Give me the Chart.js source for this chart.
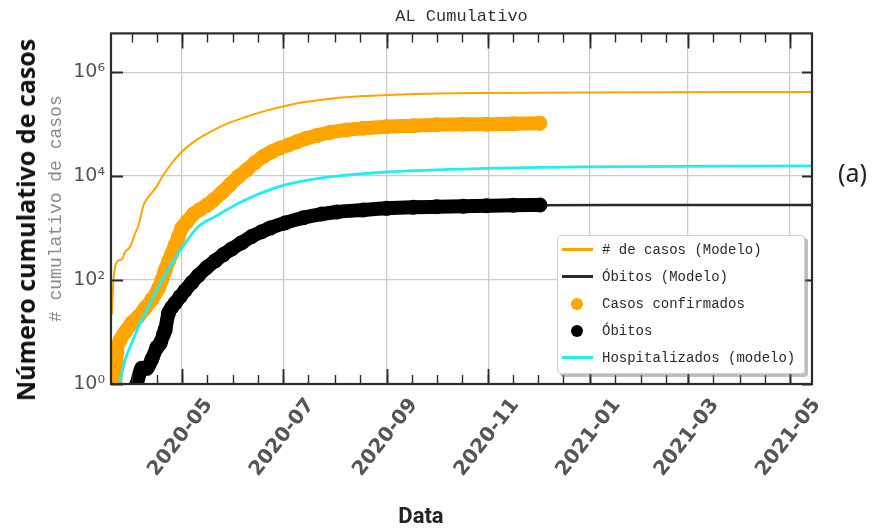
<!DOCTYPE html>
<html lang="pt">
<head>
<meta charset="UTF-8">
<title>AL Cumulativo</title>
<script src="https://cdn.jsdelivr.net/npm/chart.js"></script>
<style>
    body { margin: 0; background: #fff; }
    #wrap { position: relative; width: 879px; height: 528px; }
    #ylabel { position: absolute; left: 25px; top: 220px; transform: translate(-50%, -50%) rotate(-90deg);
        font: 700 25px 'Open Sans'; color: #111; white-space: nowrap; }
    #xlabel { position: absolute; left: 421px; top: 515px; transform: translate(-50%, -50%);
        font: 700 22px Roboto; color: #222; }
    #tag { position: absolute; left: 838px; top: 172px; transform: translateY(-50%);
        font: 400 25px 'Noto Sans'; color: #222; }
    #legenda { position: absolute; left: 557px; top: 235px; width: 248px; height: 139px; box-sizing: border-box;
        border: 1px solid #cfcfcf; border-radius: 4px; background: rgba(255, 255, 255, 0.92);
        box-shadow: 3px 3px 0 rgba(110, 110, 110, 0.45); padding: 0 0 0 4px;
        font: 14px 'Liberation Mono'; color: #2a2a2a; }
    #legenda .item { height: 27px; display: flex; align-items: center; white-space: nowrap; }
    #legenda .traco { width: 31px; height: 3px; margin-right: 9px; }
    #legenda .ponto { width: 12px; height: 12px; border-radius: 50%; margin: 0 19px 0 9px; }
</style>
</head>
<body>
<div id="wrap">
    <canvas id="grafico" width="879" height="528"></canvas>
    <div id="ylabel">Número cumulativo de casos</div>
    <div id="xlabel">Data</div>
    <div id="tag">(a)</div>
    <div id="legenda"></div>
</div>
<script>
    // ---- dados ----
    const rotulosX = ['2020-05', '2020-07', '2020-09', '2020-11', '2021-01', '2021-03', '2021-05'];
    const ticksY = [1, 1e2, 1e4, 1e6];
    const rotulosY = ['10⁰', '10²', '10⁴', '10⁶'];

    // # de casos (Modelo)
    const modeloCasosDatas = ['2020-03-20', '2020-03-21', '2020-03-23', '2020-03-26', '2020-03-28', '2020-03-31',
        '2020-04-03', '2020-04-05', '2020-04-08', '2020-04-11', '2020-04-15', '2020-04-20', '2020-04-25',
        '2020-05-01', '2020-05-07', '2020-05-13', '2020-05-21', '2020-05-29', '2020-06-06', '2020-06-14',
        '2020-06-23', '2020-07-02', '2020-07-13', '2020-07-29', '2020-08-18', '2020-09-01', '2020-10-01',
        '2020-10-31', '2020-12-26', '2021-05-14'];
    const modeloCasos = [22, 100, 224, 251, 347, 437, 794, 1120, 2750, 3980, 5750, 10500, 17800,
        29500, 42700, 57500, 79400, 105000, 129000, 158000, 190000, 224000, 263000, 309000, 347000,
        363000, 389000, 398000, 407000, 417000];

    // Óbitos (Modelo)
    const modeloObitosDatas = ['2020-04-06', '2020-04-14', '2020-04-20', '2020-04-25', '2020-05-03', '2020-05-11',
        '2020-05-21', '2020-05-31', '2020-06-12', '2020-06-23', '2020-07-13', '2020-08-02', '2020-09-01',
        '2020-10-01', '2020-10-31', '2020-12-02', '2021-01-15', '2021-05-14'];
    const modeloObitos = [1, 3, 9, 28, 63, 123, 234, 398, 692, 1000, 1585, 2042, 2400, 2570, 2690, 2760, 2790, 2790];

    // Casos confirmados
    const casosDatas = ['2020-03-22', '2020-03-23', '2020-03-25', '2020-03-28', '2020-04-01', '2020-04-05',
        '2020-04-09', '2020-04-13', '2020-04-17', '2020-04-19', '2020-04-21', '2020-04-23', '2020-04-25',
        '2020-04-27', '2020-04-29', '2020-05-01', '2020-05-04', '2020-05-08', '2020-05-12', '2020-05-16',
        '2020-05-20', '2020-05-25', '2020-05-30', '2020-06-04', '2020-06-09', '2020-06-14', '2020-06-19',
        '2020-06-24', '2020-06-29', '2020-07-04', '2020-07-09', '2020-07-14', '2020-07-21', '2020-07-29',
        '2020-08-08', '2020-08-18', '2020-09-01', '2020-09-17', '2020-10-01', '2020-10-17', '2020-10-31',
        '2020-11-16', '2020-12-02'];
    const casos = [1, 4, 7, 10, 15, 20, 29, 42, 69, 100, 155, 230, 320, 470, 680, 1000, 1320, 1860, 2290,
        2750, 3470, 4790, 6900, 9800, 13200, 18200, 24000, 29500, 34700, 39800, 45700, 52500, 60300, 69200,
        77600, 83200, 89100, 93300, 97700, 100000, 100000, 102000, 104000];

    // Óbitos
    const obitosDatas = ['2020-04-04', '2020-04-07', '2020-04-10', '2020-04-13', '2020-04-16', '2020-04-18',
        '2020-04-20', '2020-04-21', '2020-04-23', '2020-04-25', '2020-04-27', '2020-04-30', '2020-05-03',
        '2020-05-07', '2020-05-11', '2020-05-16', '2020-05-21', '2020-05-26', '2020-05-31', '2020-06-06',
        '2020-06-12', '2020-06-18', '2020-06-23', '2020-07-02', '2020-07-13', '2020-07-24', '2020-08-02',
        '2020-08-18', '2020-09-01', '2020-09-17', '2020-10-01', '2020-10-17', '2020-10-31', '2020-11-16',
        '2020-12-02'];
    const obitos = [1, 2, 2, 3, 5, 6, 9, 11, 23, 30, 36, 48, 63, 89, 123, 174, 234, 309, 398, 525, 692, 851,
        1000, 1260, 1585, 1862, 2042, 2239, 2399, 2512, 2570, 2630, 2692, 2754, 2786];

    // Hospitalizados (modelo)
    const hospDatas = ['2020-03-25', '2020-03-26', '2020-03-28', '2020-04-01', '2020-04-05', '2020-04-11',
        '2020-04-17', '2020-04-25', '2020-05-03', '2020-05-11', '2020-05-21', '2020-05-30', '2020-06-08',
        '2020-06-23', '2020-07-02', '2020-07-13', '2020-08-02', '2020-09-01', '2020-10-31', '2020-12-26',
        '2021-05-14'];
    const hosp = [1, 1.6, 2.9, 6.2, 12.6, 31, 74, 209, 513, 1070, 1660, 2450, 3470, 5500, 6760, 8100,
        10000, 12000, 14100, 15100, 15800];

    // eixo x em dias desde 2020-03-01
    const DIA0 = Date.UTC(2020, 2, 1);
    function dia(s) {
        const [a, m, d] = s.split('-').map(Number);
        return (Date.UTC(a, m - 1, d) - DIA0) / 86400000;
    }
    function pares(datas, valores) {
        return datas.map((d, i) => ({ x: dia(d), y: valores[i] }));
    }

    const LARANJA = '#ffa500';
    const CIANO = '#22eeee';

    // marcas menores: dia 1 e 16 de cada mês
    const ticksMenores = [];
    for (let a = 2020; a <= 2021; a++) {
        for (let m = 1; m <= 12; m++) {
            [1, 16].forEach(d => {
                ticksMenores.push((Date.UTC(a, m - 1, d) - DIA0) / 86400000);
            });
        }
    }

    // moldura e tracinhos para dentro, como no matplotlib
    const molduraPlugin = {
        id: 'moldura',
        afterDatasetsDraw(chart) {
            const { ctx, chartArea: a, scales: { x, y } } = chart;
            ctx.save();
            ctx.strokeStyle = '#2b2b2b';
            ctx.lineWidth = 1.4;
            ctx.beginPath();
            ticksMenores.forEach(v => {
                if (v <= x.min || v >= x.max) return;
                const px = Math.round(x.getPixelForValue(v)) + 0.5;
                ctx.moveTo(px, a.bottom); ctx.lineTo(px, a.bottom - 9);
                ctx.moveTo(px, a.top); ctx.lineTo(px, a.top + 9);
            });
            ctx.stroke();
            ctx.lineWidth = 1.8;
            ctx.beginPath();
            x.ticks.forEach(t => {
                const px = Math.round(x.getPixelForValue(t.value)) + 0.5;
                ctx.moveTo(px, a.bottom); ctx.lineTo(px, a.bottom - 15);
                ctx.moveTo(px, a.top); ctx.lineTo(px, a.top + 15);
            });
            y.ticks.forEach(t => {
                const py = Math.round(y.getPixelForValue(t.value)) + 0.5;
                ctx.moveTo(a.left, py); ctx.lineTo(a.left + 12, py);
                ctx.moveTo(a.right, py); ctx.lineTo(a.right - 10, py);
            });
            ctx.stroke();
            ctx.lineWidth = 2.2;
            ctx.strokeRect(a.left, a.top, a.right - a.left, a.bottom - a.top);
            ctx.restore();
        }
    };

    const ctx = document.getElementById('grafico');
    const grafico = new Chart(ctx, {
        type: 'line',
        data: {
            datasets: [{
                label: '# de casos (Modelo)',
                data: pares(modeloCasosDatas, modeloCasos),
                borderColor: LARANJA, backgroundColor: LARANJA,
                borderWidth: 2, pointRadius: 0, order: 4, amostra: 'traco'
            }, {
                label: 'Óbitos (Modelo)',
                data: pares(modeloObitosDatas, modeloObitos),
                borderColor: '#2a2a2a', backgroundColor: '#2a2a2a',
                borderWidth: 2.4, pointRadius: 0, order: 3, amostra: 'traco'
            }, {
                label: 'Casos confirmados',
                data: pares(casosDatas, casos),
                borderColor: LARANJA, backgroundColor: LARANJA,
                borderWidth: 14, pointRadius: 7.5, pointBorderWidth: 0, order: 2, amostra: 'ponto'
            }, {
                label: 'Óbitos',
                data: pares(obitosDatas, obitos),
                borderColor: '#000000', backgroundColor: '#000000',
                borderWidth: 14, pointRadius: 7.5, pointBorderWidth: 0, order: 1, amostra: 'ponto'
            }, {
                label: 'Hospitalizados (modelo)',
                data: pares(hospDatas, hosp),
                borderColor: CIANO, backgroundColor: CIANO,
                borderWidth: 2.8, pointRadius: 0, order: 0, amostra: 'traco'
            }]
        },
        options: {
            responsive: false,
            animation: false,
            layout: { padding: { left: 45, right: 67, top: 0, bottom: 0 } },
            elements: {
                line: { cubicInterpolationMode: 'monotone', borderCapStyle: 'round', borderJoinStyle: 'round' }
            },
            datasets: { line: { clip: 0 } },
            plugins: {
                legend: { display: false },
                tooltip: { enabled: false },
                title: {
                    display: true,
                    fullSize: false,
                    text: 'AL Cumulativo',
                    color: '#333',
                    font: { family: 'Liberation Mono', size: 17, weight: 'normal' },
                    padding: { top: 6, bottom: 7 }
                }
            },
            scales: {
                x: {
                    type: 'linear',
                    min: 18.5,
                    max: 439.4,
                    afterBuildTicks: (s) => { s.ticks = rotulosX.map(r => ({ value: dia(r + '-01') })); },
                    afterFit: (s) => { s.height = 144; },
                    grid: { color: '#cccccc', lineWidth: 1.3, drawTicks: false },
                    border: { display: false },
                    ticks: {
                        autoSkip: false, minRotation: 52, maxRotation: 52,
                        padding: 10, labelOffset: 27, color: '#555',
                        font: { family: 'DejaVu Sans', size: 20, weight: 'bold' },
                        callback: (v, i) => rotulosX[i]
                    }
                },
                y: {
                    type: 'logarithmic',
                    min: 1,
                    max: 5.58e6,
                    afterBuildTicks: (s) => { s.ticks = ticksY.map(v => ({ value: v })); },
                    afterFit: (s) => { s.width = 66; },
                    grid: { color: '#cccccc', lineWidth: 1.3, drawTicks: false },
                    border: { display: false },
                    ticks: {
                        padding: 6, color: '#555',
                        font: { family: 'DejaVu Sans', size: 19 },
                        callback: (v, i) => rotulosY[i]
                    },
                    title: {
                        display: true,
                        text: '# cumulativo de casos',
                        color: '#8a8a8a',
                        font: { family: 'Liberation Mono', size: 18 },
                        padding: 0
                    }
                }
            }
        },
        plugins: [molduraPlugin]
    });

    // legenda em HTML, montada a partir dos datasets
    const caixa = document.getElementById('legenda');
    grafico.data.datasets.forEach(ds => {
        const item = document.createElement('div');
        item.className = 'item';
        const amostra = document.createElement('span');
        amostra.className = ds.amostra;
        amostra.style.background = ds.borderColor;
        const texto = document.createElement('span');
        texto.textContent = ds.label;
        item.appendChild(amostra);
        item.appendChild(texto);
        caixa.appendChild(item);
    });
</script>
</body>
</html>
